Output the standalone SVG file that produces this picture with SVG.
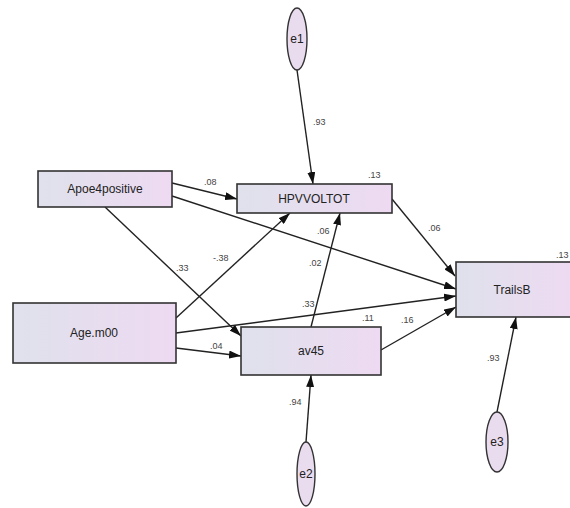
<svg xmlns="http://www.w3.org/2000/svg" width="570" height="508" viewBox="0 0 570 508">
<style>
.box{stroke:#333;stroke-width:1.6;fill:url(#g)}
.ell{stroke:#333;stroke-width:1.4;fill:#eadcef}
.lbl{font-family:"Liberation Sans",Arial,sans-serif;font-size:12px;fill:#222;text-anchor:middle}
.coef{font-family:"Liberation Sans",Arial,sans-serif;font-size:9px;fill:#444}
.edge{stroke:#222;stroke-width:1.4;fill:none;marker-end:url(#ah)}
</style>
<defs>
<linearGradient id="g" x1="0" y1="0" x2="1" y2="0">
<stop offset="0" stop-color="#dfe1ec"/>
<stop offset="1" stop-color="#eedaf2"/>
</linearGradient>
<marker id="ah" markerUnits="userSpaceOnUse" markerWidth="12" markerHeight="8" refX="12" refY="4" orient="auto">
<path d="M0,0 L12,4 L0,8 Z" fill="#111"/>
</marker>
</defs>
<rect width="570" height="508" fill="#fff"/>
<g id="connectors">
<line class="edge" x1="297" y1="70" x2="313" y2="184"/>
<line class="edge" x1="306" y1="442" x2="311" y2="375"/>
<line class="edge" x1="497" y1="412" x2="516" y2="317"/>
<line class="edge" x1="172" y1="183" x2="237" y2="199"/>
<line class="edge" x1="172" y1="196" x2="456" y2="289"/>
<line class="edge" x1="105" y1="207" x2="241" y2="336"/>
<line class="edge" x1="176" y1="318" x2="290" y2="213"/>
<line class="edge" x1="176" y1="333" x2="456" y2="296"/>
<line class="edge" x1="176" y1="348" x2="241" y2="356"/>
<line class="edge" x1="392" y1="199" x2="455" y2="276"/>
<line class="edge" x1="311" y1="327" x2="340" y2="213"/>
<line class="edge" x1="381" y1="350" x2="456" y2="307"/>
<text class="coef" x="313" y="125">.93</text>
<text class="coef" x="289" y="405">.94</text>
<text class="coef" x="487" y="361">.93</text>
<text class="coef" x="204" y="185">.08</text>
<text class="coef" x="317" y="234">.06</text>
<text class="coef" x="176" y="271">.33</text>
<text class="coef" x="213" y="261">-.38</text>
<text class="coef" x="302" y="307">.33</text>
<text class="coef" x="210" y="349">.04</text>
<text class="coef" x="428" y="231">.06</text>
<text class="coef" x="309" y="266">.02</text>
<text class="coef" x="401" y="323">.16</text>
<text class="coef" x="362" y="321">.11</text>
<text class="coef" x="368" y="178">.13</text>
<text class="coef" x="556" y="258">.13</text>
</g>
<g id="Apoe4positive"><rect class="box" x="38" y="171" width="134" height="36"/><text class="lbl" x="105" y="193">Apoe4positive</text></g>
<g id="Age.m00"><rect class="box" x="13" y="303" width="163" height="60"/><text class="lbl" x="94" y="337">Age.m00</text></g>
<g id="HPVVOLTOT"><rect class="box" x="237" y="184" width="155" height="29"/><text class="lbl" x="314" y="203">HPVVOLTOT</text></g>
<g id="TrailsB"><rect class="box" x="456" y="262" width="118" height="55"/><text class="lbl" x="512" y="294">TrailsB</text></g>
<g id="av45"><rect class="box" x="241" y="327" width="140" height="48"/><text class="lbl" x="311" y="355">av45</text></g>
<g id="e1"><ellipse class="ell" cx="297" cy="39" rx="10" ry="31"/><text class="lbl" x="297" y="43">e1</text></g>
<g id="e2"><ellipse class="ell" cx="306" cy="474" rx="9" ry="32"/><text class="lbl" x="306" y="478">e2</text></g>
<g id="e3"><ellipse class="ell" cx="497" cy="442" rx="11" ry="30"/><text class="lbl" x="497" y="446">e3</text></g>
</svg>
